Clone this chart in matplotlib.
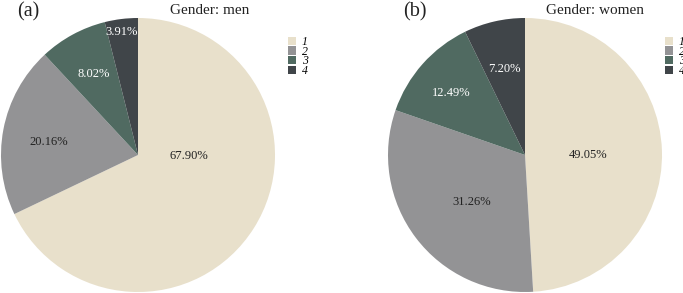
import matplotlib
matplotlib.use("Agg")
import matplotlib.pyplot as plt

categories = ["1", "2", "3", "4"]
men = [67.90, 20.16, 8.02, 3.91]
women = [49.05, 31.26, 12.49, 7.20]
colors = ["#E8E0CB", "#939395", "#506A61", "#404549"]
text_colors = ["#222222", "#222222", "#FFFFFF", "#FFFFFF"]

# label positions in units of pie radius (layout only)
men_label_pos = [(0.37, -0.007), (-0.65, 0.095), (-0.32, 0.59), (-0.12, 0.90)]
women_label_pos = [(0.46, 0.0), (-0.39, -0.34), (-0.54, 0.45), (-0.15, 0.63)]

plt.rcParams['font.family'] = ['Liberation Serif', 'DejaVu Serif']

W, H = 683, 293
fig = plt.figure(figsize=(W / 100, H / 100), dpi=100)
fig.patch.set_facecolor("white")


def draw(cx, cy, R, values, label_pos, tag, title, tag_x, title_x, leg_x):
    ax = fig.add_axes([(cx - R) / W, (H - cy - R) / H, 2 * R / W, 2 * R / H])
    wedges, _ = ax.pie(values, colors=colors, startangle=90, counterclock=False,
                       wedgeprops=dict(linewidth=0))
    ax.set_xlim(-1, 1)
    ax.set_ylim(-1, 1)
    ax.set_aspect("equal")
    for v, (x, y), c in zip(values, label_pos, text_colors):
        ax.text(x, y, f"{v:.2f}%", ha="center", va="center", fontsize=9, color=c)
    fig.text(tag_x / W, 1 - 12 / H, tag, ha="center", va="center", fontsize=14.5, color="#222222")
    fig.text(title_x / W, 1 - 10 / H, title, ha="center", va="center", fontsize=11, color="#222222")
    fig.legend(wedges, categories, loc="upper left",
               bbox_to_anchor=(leg_x / W, 1 - 36 / H), frameon=False,
               prop=dict(family="Liberation Serif", style="italic", size=8.5),
               handlelength=0.7, handleheight=0.7, labelspacing=-0.2,
               handletextpad=0.45, borderpad=0, borderaxespad=0)
    return ax


draw(138, 155, 137, men, men_label_pos, "(a)", "Gender: men", 28, 210, 288)
draw(525, 155, 137, women, women_label_pos, "(b)", "Gender: women", 415, 595, 665)

fig.savefig("out.png", dpi=100, facecolor="white")
